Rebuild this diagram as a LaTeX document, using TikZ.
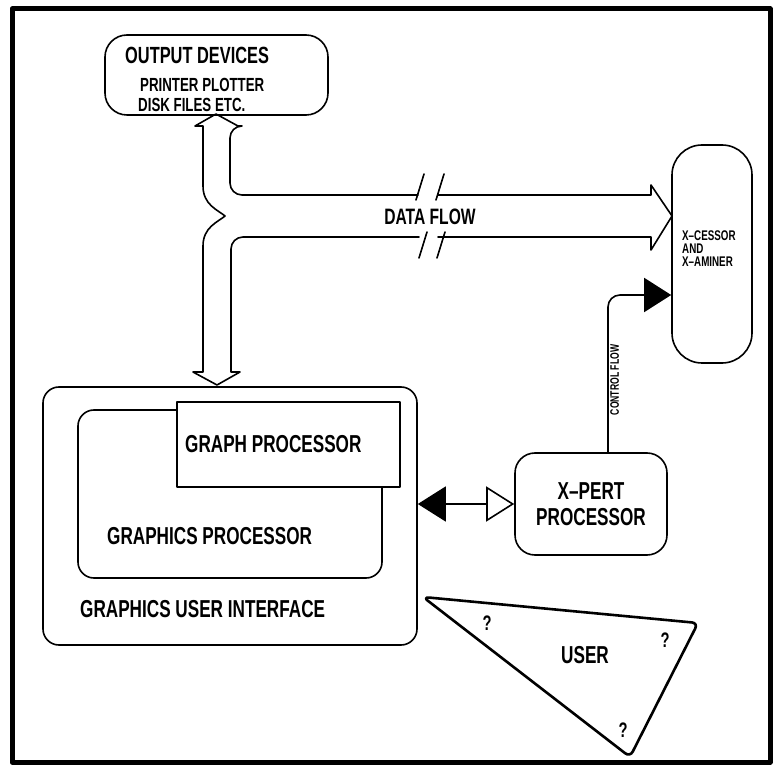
\documentclass[tikz,border=0pt]{standalone}
\usepackage{fontspec}
\setmainfont{Liberation Sans}[FakeStretch=0.7]
\usetikzlibrary{arrows.meta,positioning}

\begin{document}
\begin{tikzpicture}[x=1pt,y=-1pt,line cap=round,line join=round,
    box/.style={draw,line width=1.6pt,rounded corners=16pt,inner sep=0pt},
    lbl/.style={font=\bfseries\fontsize{24.5}{26}\selectfont,inner sep=0pt},
    lblsmall/.style={font=\bfseries\fontsize{19}{21}\selectfont,inner sep=0pt},
    lbltiny/.style={font=\bfseries\fontsize{14}{13}\selectfont,inner sep=0pt,align=left},
    flowline/.style={line width=1.6pt}]
  \useasboundingbox (0,0) rectangle (779,775);
  \draw[line width=5pt] (12,9) rectangle (770,762);

  \node[box,rounded corners=22pt,minimum width=223pt,minimum height=80pt] (out) at (216.5,75) {};
  \node[lbl,font=\bfseries\fontsize{23.4}{25}\selectfont,anchor=base west] (outA) at (125,64) {OUTPUT DEVICES};
  \node[lblsmall,anchor=base west] (outB) at (140,92) {PRINTER PLOTTER};
  \node[lblsmall,anchor=base west] (outC) at (138,112) {DISK FILES ETC.};

  \node[box,rounded corners=30pt,minimum width=80pt,minimum height=218pt] (xcess) at (712,254) {};
  \node[lbltiny,anchor=north west] (xcessT) at (682,231) {X--CESSOR\\AND\\X--AMINER};

  \node[box,minimum width=374pt,minimum height=258pt] (gui) at (230,516) {};
  \node[box,minimum width=304pt,minimum height=168pt] (gfx) at (230,494) {};
  \node[box,rounded corners=0pt,fill=white,minimum width=223pt,minimum height=85pt] (graph) at (288.5,444.5) {};
  \node[lbl,anchor=west] (graphT) at (185,444) {GRAPH PROCESSOR};
  \node[lbl,anchor=west] (gfxT) at (107,536) {GRAPHICS PROCESSOR};
  \node[lbl,anchor=west] (guiT) at (80,609) {GRAPHICS USER INTERFACE};

  \node[box,rounded corners=20pt,minimum width=152pt,minimum height=102pt,align=center,lbl] (xpert) at (591,504) {X--PERT\\PROCESSOR};

  % data flow
  \draw[flowline] (418,195) [rounded corners=12pt] -- (230,195) -- (230,126) [sharp corners]
    -- (238,126) -- (216,114) -- (195,126) -- (203,126) -- (203,186)
    .. controls (203,205) and (218,210) .. (225,216)
    .. controls (218,222) and (203,227) .. (203,246)
    -- (203,372) -- (193,372) -- (217,385) -- (240,372) -- (231,372)
    [rounded corners=12pt] -- (231,237) [sharp corners] -- (419,237);
  \draw[flowline] (438,195) -- (651,195) -- (651,185) -- (672,216) -- (651,250) -- (651,237) -- (438,237);
  \draw[flowline] (416,200) -- (424,174) (436,200) -- (444,174)
    (419,258) -- (427,232) (437,258) -- (445,232);
  \node[lbl,font=\bfseries\fontsize{22.3}{24}\selectfont] (dflow) at (430,217) {DATA FLOW};

  % control flow
  \draw[flowline,rounded corners=12pt,-{Triangle[length=27pt,width=34pt]}]
    ([xshift=17pt]xpert.north) |- ([yshift=-41pt]xcess.west);
  \node[font=\bfseries\fontsize{12.3}{13}\selectfont,inner sep=0pt,rotate=90,anchor=north] (cflow) at (610,380) {CONTROL FLOW};

  \draw[flowline,{Triangle[length=28pt,width=35pt]}-{Triangle[open,length=28pt,width=35pt]}]
    (gui.east |- xpert.west) -- (xpert.west);

  % user
  \draw[line width=2.6pt,rounded corners=6pt] (423,597) -- (698,623) -- (630,757) -- cycle;
  \node[lbl] (user) at (585,655) {USER};
  \foreach \x/\y [count=\i] in {487/623,665/640,623/730}
    \node[lbl,font=\bfseries\fontsize{21}{23}\selectfont] (q\i) at (\x,\y) {?};
\end{tikzpicture}
\end{document}
